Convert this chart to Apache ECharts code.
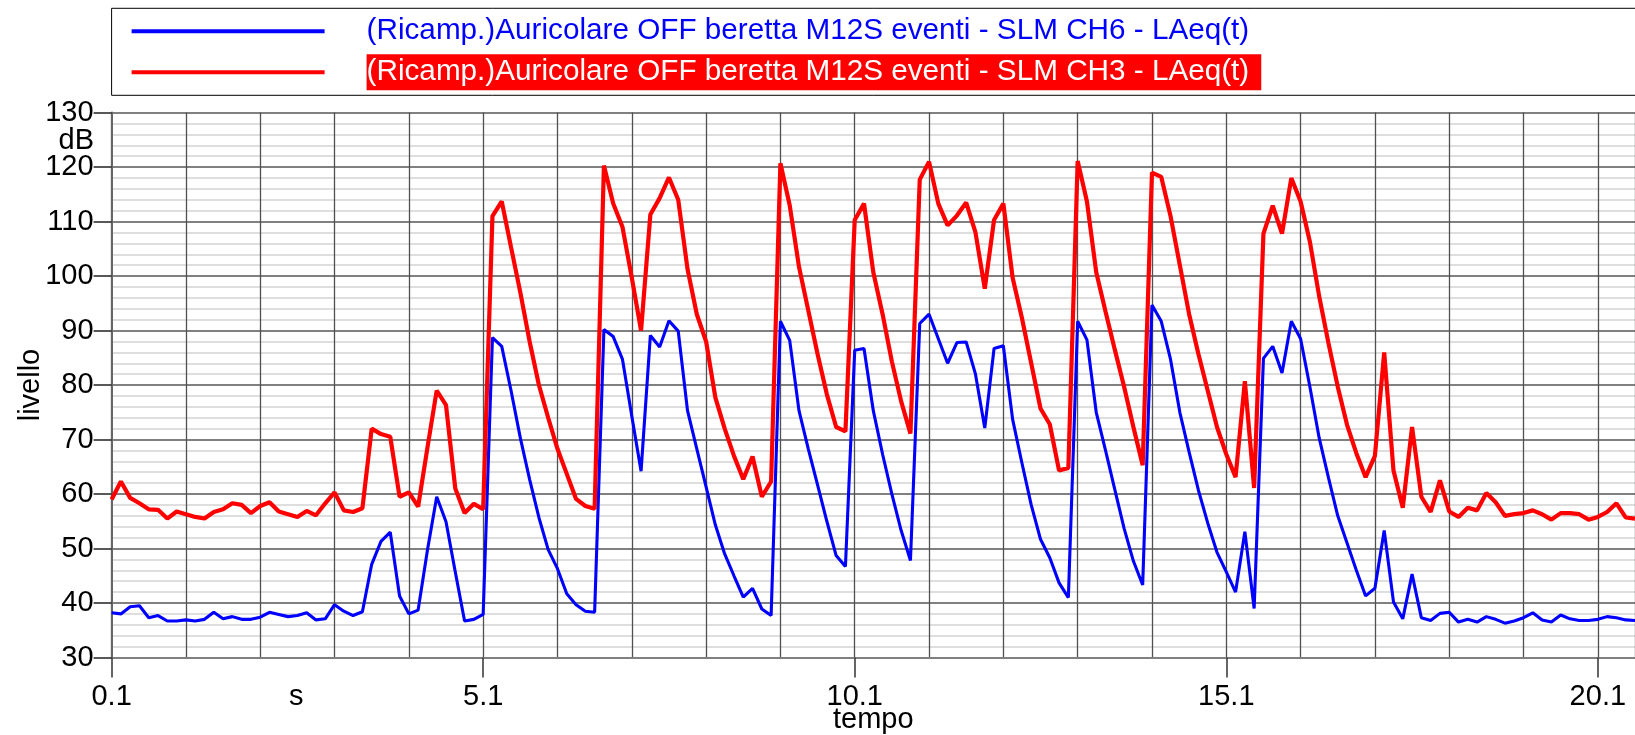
<!DOCTYPE html>
<html>
<head>
<meta charset="utf-8">
<title>livello</title>
<script src="https://cdn.jsdelivr.net/npm/echarts@6/dist/echarts.min.js"></script>
<style>
html, body { margin: 0; padding: 0; background: #fff; }
#livelloChart { width: 1635px; height: 735px; }
</style>
</head>
<body>
<div id="livelloChart"></div>
<script>
// tempo: primo campione e passo di ricampionamento (s)
var t0 = 0.1;
var dt = 0.125;
var xMaxOffset = 20.5;               // fine asse, secondi dopo t0
var xLabelStep = 5;                  // etichette 0.1, 5.1, 10.1 ...
var yMin = 30, yMax = 130, yStep = 10;

var nomeCH6 = '(Ricamp.)Auricolare OFF beretta M12S eventi - SLM CH6 - LAeq(t)';
var nomeCH3 = '(Ricamp.)Auricolare OFF beretta M12S eventi - SLM CH3 - LAeq(t)';

// LAeq(t) in dB, un valore ogni dt
var livelloCH6 = [
	38.2, 38.0, 39.3, 39.5, 37.3, 37.7, 36.7, 36.7, 36.9, 36.7,
	37.0, 38.3, 37.1, 37.5, 37.0, 37.0, 37.4, 38.3, 37.9, 37.5,
	37.7, 38.2, 36.9, 37.1, 39.7, 38.5, 37.7, 38.4, 47.1, 51.3,
	53.0, 41.3, 38.0, 38.7, 49.7, 59.5, 54.9, 45.7, 36.7, 37.0,
	37.9, 88.7, 87.1, 79.0, 70.3, 62.7, 55.7, 49.8, 46.3, 41.7,
	39.7, 38.5, 38.3, 90.2, 88.9, 84.7, 74.3, 64.2, 89.1, 87.0,
	91.8, 89.9, 75.3, 68.3, 61.3, 54.3, 49.0, 45.0, 41.1, 42.7,
	38.9, 37.7, 91.7, 88.2, 75.3, 68.3, 61.7, 55.0, 48.7, 46.7,
	86.4, 86.7, 75.3, 67.3, 60.0, 53.3, 47.8, 91.3, 93.0, 88.5,
	84.0, 87.8, 87.9, 82.0, 72.1, 86.7, 87.2, 73.7, 65.7, 58.0,
	51.7, 48.3, 43.7, 41.0, 91.7, 88.3, 75.0, 68.0, 60.8, 53.7,
	47.7, 43.3, 94.7, 91.7, 84.7, 75.0, 67.7, 60.7, 54.7, 49.3,
	45.7, 42.0, 53.1, 39.0, 84.9, 87.1, 82.2, 91.7, 88.5, 79.7,
	70.3, 63.0, 56.0, 51.0, 46.0, 41.3, 42.7, 53.3, 40.2, 37.1,
	45.3, 37.3, 36.8, 38.1, 38.3, 36.5, 37.0, 36.5, 37.5, 37.0,
	36.3, 36.7, 37.3, 38.2, 36.9, 36.5, 37.8, 37.1, 36.8, 36.8,
	37.0, 37.5, 37.3, 36.9, 36.8
];
var livelloCH3 = [
	59.0, 62.3, 59.3, 58.3, 57.2, 57.1, 55.5, 56.8, 56.3, 55.8,
	55.5, 56.7, 57.2, 58.3, 58.0, 56.5, 57.8, 58.5, 56.8, 56.3,
	55.8, 56.9, 56.1, 58.3, 60.3, 57.0, 56.7, 57.4, 72.0, 71.0,
	70.5, 59.5, 60.3, 57.7, 68.5, 79.0, 76.3, 61.0, 56.5, 58.2,
	57.2, 111.0, 113.7, 105.3, 97.0, 88.0, 80.0, 74.0, 68.3, 63.7,
	59.1, 57.8, 57.3, 120.3, 113.3, 109.0, 99.7, 90.0, 111.3, 114.3,
	118.1, 114.0, 101.3, 93.0, 88.0, 77.7, 72.0, 67.0, 62.7, 66.9,
	59.5, 62.3, 120.7, 113.0, 101.7, 93.7, 85.7, 78.3, 72.3, 71.5,
	110.3, 113.3, 100.7, 93.0, 84.3, 77.0, 71.1, 117.7, 121.0, 113.3,
	109.3, 111.1, 113.5, 108.0, 97.7, 110.3, 113.3, 99.7, 92.3, 84.0,
	75.7, 72.8, 64.3, 64.8, 121.1, 113.7, 100.7, 93.5, 86.5, 79.7,
	72.3, 65.3, 119.0, 118.2, 111.0, 102.0, 93.0, 85.7, 79.0, 72.3,
	67.3, 63.1, 80.7, 61.1, 107.8, 112.9, 107.8, 118.0, 113.7, 106.3,
	96.3, 87.7, 79.7, 72.7, 67.5, 63.1, 67.0, 86.0, 64.3, 57.5,
	72.3, 59.5, 56.7, 62.5, 56.8, 55.8, 57.5, 57.0, 60.2, 58.5,
	56.0, 56.3, 56.5, 57.0, 56.3, 55.3, 56.5, 56.5, 56.3, 55.3,
	55.8, 56.7, 58.3, 55.7, 55.5
];

var FONT = 'Liberation Sans, Arial, Helvetica, sans-serif';

function toPoints(values){
	return values.map(function(v, i){ return [i * dt, v]; });
}

(function(){
	var chart = echarts.init(document.getElementById('livelloChart'));
	var option = {
		backgroundColor: '#fff',
		animation: false,
		textStyle: { fontFamily: FONT },
		grid: { left: 111.6, top: 112.6, right: 0, bottom: 77.5, containLabel: false, outerBoundsMode: 'none' },
		legend: {
			orient: 'vertical',
			left: 111.6,
			top: 8.3,
			padding: [5, 460, 5, 20],
			borderColor: '#000',
			borderWidth: 1,
			itemWidth: 193,
			itemHeight: 4,
			itemGap: 5,
			icon: 'rect',
			selectedMode: false,
			formatter: function(name){
				return '{gap| }{' + (name === nomeCH3 ? 'r' : 'b') + '|' + name + '}';
			},
			textStyle: {
				fontFamily: FONT,
				fontSize: 29.7,
				lineHeight: 34,
				rich: {
					gap: { width: 37, fontSize: 29.7, lineHeight: 34 },
					b: { color: '#0000ff', fontSize: 29.7, lineHeight: 34, padding: [3, 2, 3, 0], fontFamily: FONT },
					r: { color: '#ffffff', backgroundColor: '#ff0000', fontSize: 29.7, lineHeight: 34,
						padding: [3, 12, 3, 0], fontFamily: FONT }
				}
			},
			data: [nomeCH6, nomeCH3]
		},
		xAxis: [
			{
				// etichette e tacche ogni 5 s
				type: 'value',
				min: 0,
				max: xMaxOffset,
				interval: xLabelStep,
				name: 'tempo',
				nameLocation: 'middle',
				nameGap: 48,
				nameMoveOverlap: false,
				nameTextStyle: { color: '#000', fontSize: 29, fontFamily: FONT },
				axisLine: { show: true, lineStyle: { color: '#808080', width: 2 } },
				axisTick: { show: true, length: 20, lineStyle: { color: '#333', width: 1.5 } },
				axisLabel: {
					color: '#000', fontSize: 29, fontFamily: FONT, margin: 25,
					showMaxLabel: false,
					formatter: function(v){ return (v + t0).toFixed(1); }
				},
				splitLine: { show: false }
			},
			{
				// griglia verticale ogni secondo
				type: 'value',
				position: 'bottom',
				min: 0,
				max: xMaxOffset,
				interval: 1,
				axisLine: { show: false },
				axisTick: { show: false },
				axisLabel: { show: false },
				splitLine: { show: true, lineStyle: { color: '#505050', width: 1.3 } }
			}
		],
		yAxis: {
			type: 'value',
			min: yMin,
			max: yMax,
			interval: yStep,
			name: 'livello',
			nameLocation: 'middle',
			nameGap: 66,
			nameMoveOverlap: false,
			nameTextStyle: { color: '#000', fontSize: 29, fontFamily: FONT },
			axisLine: { show: true, lineStyle: { color: '#666', width: 2 } },
			axisTick: { show: true, length: 18, lineStyle: { color: '#222', width: 1.5 } },
			axisLabel: { color: '#000', fontSize: 29, fontFamily: FONT, margin: 18 },
			splitLine: { show: true, lineStyle: { color: '#808080', width: 2 } },
			minorTick: { show: false, splitNumber: 5 },
			minorSplitLine: { show: true, lineStyle: { color: '#d3d3d3', width: 1.6 } }
		},
		graphic: [
			{ type: 'text', right: 1635 - 94, top: 126,
				style: { text: 'dB', font: '29px ' + FONT, fill: '#000' } },
			{ type: 'text', left: 289, top: 682,
				style: { text: 's', font: '29px ' + FONT, fill: '#000' } }
		],
		series: [
			{
				name: nomeCH6,
				type: 'line',
				data: toPoints(livelloCH6),
				symbol: 'none',
				color: '#0000ff',
				lineStyle: { color: '#0000ff', width: 3.1 },
				z: 3
			},
			{
				name: nomeCH3,
				type: 'line',
				data: toPoints(livelloCH3),
				symbol: 'none',
				color: '#ff0000',
				lineStyle: { color: '#ff0000', width: 4.2 },
				z: 4
			}
		]
	};
	chart.setOption(option);
})();
</script>
</body>
</html>
